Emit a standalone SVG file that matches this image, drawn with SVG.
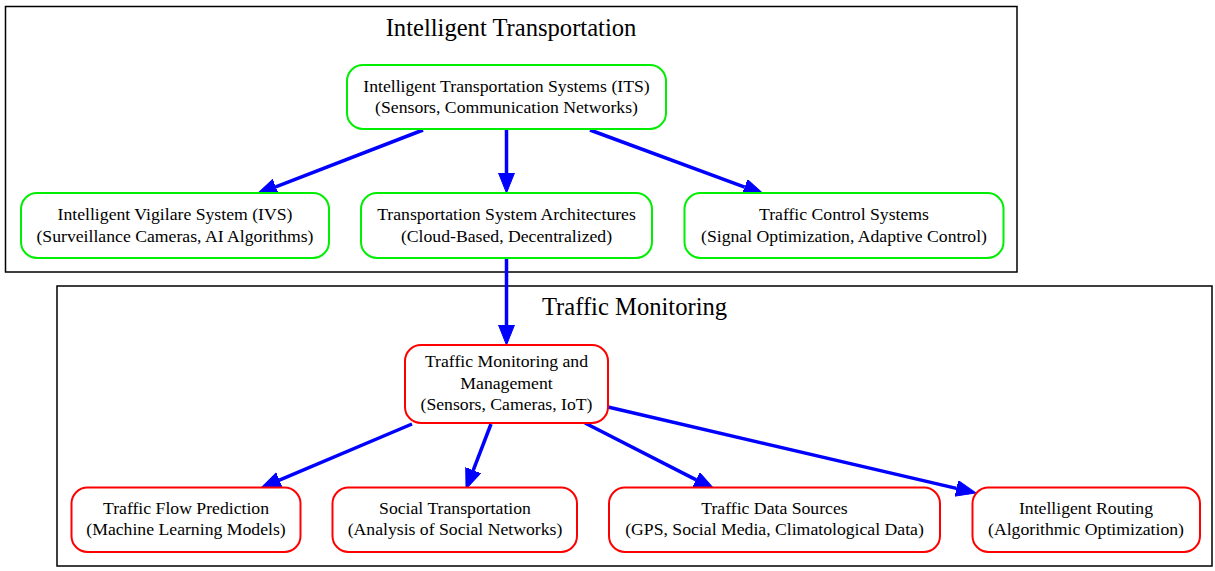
<svg xmlns="http://www.w3.org/2000/svg" width="1215" height="571" viewBox="0 0 1215 571">
<style>
  .cluster{fill:#ffffff;stroke:#000000;stroke-width:1.5}
  .ctitle{font-family:"Liberation Serif","Times New Roman",serif;font-size:24.6px;fill:#000;text-anchor:middle}
  .g{fill:#ffffff;stroke:#00ee00;stroke-width:2}
  .r{fill:#ffffff;stroke:#ff0000;stroke-width:2}
  .t{font-family:"Liberation Serif","Times New Roman",serif;font-size:17.7px;fill:#000;text-anchor:middle}
  .e{stroke:#0000ff;stroke-width:3.5;fill:none;marker-end:url(#ah)}
</style>
<defs>
  <marker id="ah" markerUnits="userSpaceOnUse" markerWidth="22" markerHeight="18" refX="0" refY="8" orient="auto" viewBox="0 0 22 18">
    <path d="M0,0 L20,8 L0,16 z" fill="#0000ff" stroke="#0000ff" stroke-width="1"/>
  </marker>
</defs>
<rect width="1215" height="571" fill="#ffffff"/>
<g id="cluster_its">
  <rect class="cluster" x="5.5" y="6.5" width="1011.5" height="265.5"/>
  <text class="ctitle" x="511" y="36">Intelligent Transportation</text>
</g>
<g id="cluster_tm">
  <rect class="cluster" x="57" y="286" width="1155" height="280"/>
  <text class="ctitle" x="634.5" y="315">Traffic Monitoring</text>
</g>
<g id="connectors">
  <path class="e" d="M423,130 L275.7,186.8"/>
  <path class="e" d="M506.5,130 L506.5,173"/>
  <path class="e" d="M590,130 L744.7,187.1"/>
  <path class="e" d="M506.5,258 L506.5,325"/>
  <path class="e" d="M412,424 L279.4,480.2"/>
  <path class="e" d="M491,424 L473.2,470.3"/>
  <path class="e" d="M585,423 L696.2,479.9"/>
  <path class="e" d="M608,407 L956.5,488.4"/>
</g>
<g id="node_its">
  <rect class="g" x="347" y="65" width="319" height="64" rx="16"/>
  <text class="t" x="506.5" y="92">Intelligent Transportation Systems (ITS)</text>
  <text class="t" x="506.5" y="113">(Sensors, Communication Networks)</text>
</g>
<g id="node_ivs">
  <rect class="g" x="21" y="193" width="308" height="65" rx="16"/>
  <text class="t" x="175" y="220">Intelligent Vigilare System (IVS)</text>
  <text class="t" x="175" y="242">(Surveillance Cameras, AI Algorithms)</text>
</g>
<g id="node_tsa">
  <rect class="g" x="361" y="193" width="291" height="65" rx="16"/>
  <text class="t" x="506.5" y="220">Transportation System Architectures</text>
  <text class="t" x="506.5" y="242">(Cloud-Based, Decentralized)</text>
</g>
<g id="node_tcs">
  <rect class="g" x="684.5" y="193" width="319" height="65" rx="16"/>
  <text class="t" x="844" y="220">Traffic Control Systems</text>
  <text class="t" x="844" y="242">(Signal Optimization, Adaptive Control)</text>
</g>
<g id="node_tmm">
  <rect class="r" x="405" y="345" width="203" height="78" rx="16"/>
  <text class="t" x="506.5" y="367">Traffic Monitoring and</text>
  <text class="t" x="506.5" y="388.5">Management</text>
  <text class="t" x="506.5" y="410">(Sensors, Cameras, IoT)</text>
</g>
<g id="node_tfp">
  <rect class="r" x="71.5" y="487.5" width="229" height="64.5" rx="16"/>
  <text class="t" x="186" y="514">Traffic Flow Prediction</text>
  <text class="t" x="186" y="535">(Machine Learning Models)</text>
</g>
<g id="node_st">
  <rect class="r" x="332.5" y="487.5" width="244.5" height="64.5" rx="16"/>
  <text class="t" x="455" y="514">Social Transportation</text>
  <text class="t" x="455" y="535">(Analysis of Social Networks)</text>
</g>
<g id="node_tds">
  <rect class="r" x="609" y="487.5" width="331" height="64.5" rx="16"/>
  <text class="t" x="774.5" y="514">Traffic Data Sources</text>
  <text class="t" x="774.5" y="535">(GPS, Social Media, Climatological Data)</text>
</g>
<g id="node_ir">
  <rect class="r" x="972.5" y="487.5" width="227.5" height="64.5" rx="16"/>
  <text class="t" x="1086" y="514">Intelligent Routing</text>
  <text class="t" x="1086" y="535">(Algorithmic Optimization)</text>
</g>
</svg>
